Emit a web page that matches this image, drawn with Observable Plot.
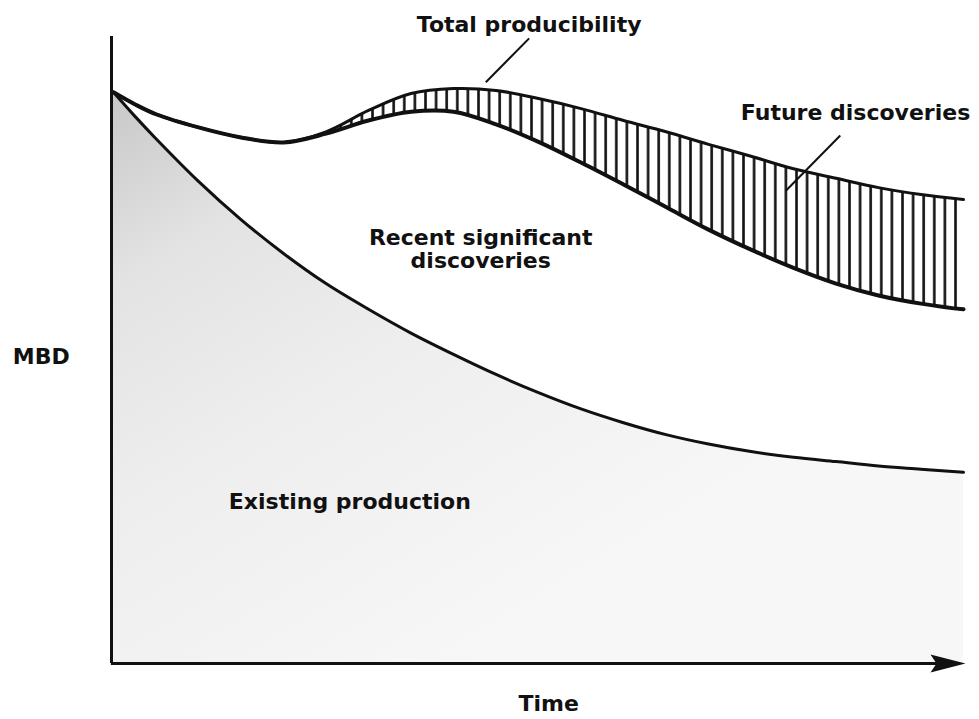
<!DOCTYPE html>
<html>
<head>
<meta charset="utf-8">
<script src="https://cdn.jsdelivr.net/npm/d3@7"></script>
<script src="https://cdn.jsdelivr.net/npm/@observablehq/plot@0.6"></script>
<style>
  html, body { margin: 0; padding: 0; background: #fff; overflow: hidden; }
  #chart { width: 979px; height: 719px; }
</style>
</head>
<body>
<div id="chart"></div>
<script>
// Time (arbitrary units, 0 = today)
const time = [0, 2.5, 5, 10, 15, 20, 25, 30, 35, 40, 45, 50, 55, 60, 65, 70, 75, 80, 85, 90, 95, 100];
// Existing production (MBD, arbitrary units)
const existing = [91.1, 87.3, 83.7, 76.9, 70.8, 65.4, 60.6, 56.5, 52.7, 49.3, 46.1, 43.2, 40.6, 38.4, 36.5, 35.0, 33.8, 32.9, 32.2, 31.5, 31.0, 30.5];
// Existing + recent significant discoveries
const recent = [91.1, 89.2, 87.6, 85.5, 83.9, 83.1, 84.5, 86.6, 88.0, 88.0, 86.0, 83.2, 79.9, 76.4, 72.8, 69.2, 66.0, 63.1, 60.6, 58.7, 57.4, 56.5];
// Total producibility (incl. future discoveries)
const future = [91.1, 89.2, 87.6, 85.5, 83.9, 83.1, 84.8, 88.2, 90.9, 91.7, 91.4, 90.1, 88.5, 86.6, 84.8, 82.8, 80.9, 78.9, 77.4, 75.9, 74.8, 74.0];

// Annotation labels
const labelText = ["Total producibility", "Future discoveries", "Recent significant\ndiscoveries", "Existing production", "MBD", "Time"];
const labelT = [48.9, 87.3, 43.2, 27.8, -8.5, 51.2];
const labelV = [101.9, 87.8, 66.1, 25.8, 49.0, -6.4];
// Leader lines
const leaderT1 = [43.8, 79.1];
const leaderV1 = [92.7, 75.4];
const leaderT2 = [48.9, 85.5];
const leaderV2 = [99.7, 84.2];

const rows = time.map((t, i) => ({t, existing: existing[i], recent: recent[i], future: future[i]}));
const labels = labelText.map((s, i) => ({s, t: labelT[i], v: labelV[i]}));
const leaders = leaderT1.map((t, i) => ({t1: t, v1: leaderV1[i], t2: leaderT2[i], v2: leaderV2[i]}));

const ink = "#111";
const font = "DejaVu Sans";
const curve = "catmull-rom";

const arrowHead = {
  draw(ctx) {
    ctx.moveTo(2, 0);
    ctx.lineTo(-33, -9);
    ctx.lineTo(-27, 0);
    ctx.lineTo(-33, 9);
    ctx.closePath();
  }
};

const plot = Plot.plot({
  width: 979,
  height: 719,
  marginLeft: 113,
  marginRight: 16,
  marginTop: 36,
  marginBottom: 56,
  x: {domain: [0, 100], axis: null},
  y: {domain: [0, 100], axis: null},
  style: {background: "#fff", overflow: "visible"},
  marks: [
    // shaded existing production
    Plot.areaY(rows, {x: "t", y1: 0, y2: "existing", curve, fill: "url(#stipple)"}),
    // hatched future discoveries band
    Plot.areaY(rows, {x: "t", y1: "recent", y2: "future", curve, fill: "url(#hatch)"}),
    Plot.line(rows, {x: "t", y: "existing", curve, stroke: ink, strokeWidth: 3}),
    Plot.line(rows, {x: "t", y: "future", curve, stroke: ink, strokeWidth: 3}),
    Plot.line(rows, {x: "t", y: "recent", curve, stroke: ink, strokeWidth: 4}),
    // axes
    Plot.ruleX([0], {y1: 0, y2: 100, stroke: ink, strokeWidth: 3, dx: -2}),
    Plot.ruleY([0], {x1: -0.25, x2: 97, stroke: ink, strokeWidth: 3}),
    Plot.dot([{t: 100, v: 0}], {x: "t", y: "v", symbol: arrowHead, fill: ink, stroke: "none", r: 10}),
    // leaders
    Plot.link(leaders, {x1: "t1", y1: "v1", x2: "t2", y2: "v2", stroke: ink, strokeWidth: 2}),
    // labels
    Plot.text(labels, {x: "t", y: "v", text: "s", fontSize: 22, fontWeight: "bold", fontFamily: font, fill: ink, lineHeight: 1.05, textAnchor: "middle"})
  ]
});

const svg = d3.select(plot);
const defs = svg.insert("defs", ":first-child");
const hatch = defs.append("pattern").attr("id", "hatch").attr("patternUnits", "userSpaceOnUse")
  .attr("width", 10.6).attr("height", 20);
hatch.append("rect").attr("width", 10.6).attr("height", 20).attr("fill", "#fff");
hatch.append("line").attr("x1", 1.5).attr("x2", 1.5).attr("y1", 0).attr("y2", 20)
  .attr("stroke", ink).attr("stroke-width", 2.6);
const grad = defs.append("linearGradient").attr("id", "shadeGrad").attr("gradientUnits", "userSpaceOnUse")
  .attr("x1", 113).attr("y1", 92).attr("x2", 460).attr("y2", 660);
grad.append("stop").attr("offset", 0).attr("stop-color", "#c8c8c8");
grad.append("stop").attr("offset", 0.25).attr("stop-color", "#e3e3e3");
grad.append("stop").attr("offset", 0.55).attr("stop-color", "#eeeeee");
grad.append("stop").attr("offset", 1).attr("stop-color", "#f7f7f7");
const stip = defs.append("pattern").attr("id", "stipple").attr("patternUnits", "userSpaceOnUse")
  .attr("width", 979).attr("height", 719);
stip.append("rect").attr("width", 979).attr("height", 719).attr("fill", "url(#shadeGrad)");

document.getElementById("chart").appendChild(plot);
</script>
</body>
</html>
